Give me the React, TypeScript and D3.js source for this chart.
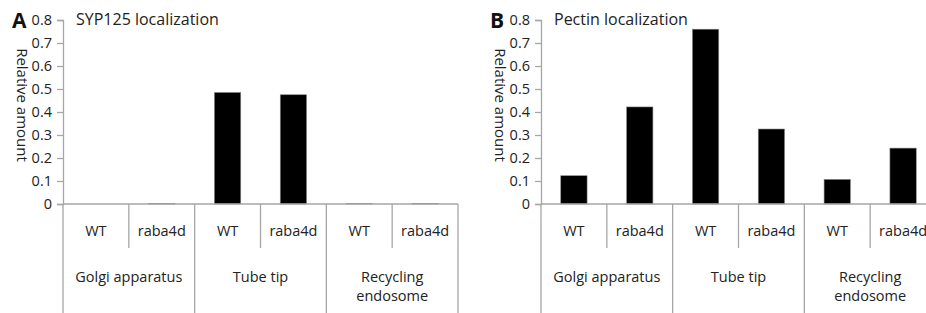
import React, { useEffect, useRef } from 'react';
import * as d3 from 'd3';

// chart data
const groups = ['Golgi apparatus', 'Tube tip', 'Recycling endosome'];
const strains = ['WT', 'raba4d'];
const sypValues = [0, 0.003, 0.485, 0.475, 0.002, 0.003];
const pectinValues = [0.123, 0.422, 0.76, 0.326, 0.107, 0.243];
const yTicks = [0, 0.1, 0.2, 0.3, 0.4, 0.5, 0.6, 0.7, 0.8];

const width = 926;
const height = 313;
const font = '"Open Sans", "Liberation Sans", sans-serif';
const axisColor = '#a6a6a6';

const yTop = 20;
const yBottom = 204;
const slotsBottom = 248;

const slots = groups.flatMap(g => strains.map(s => `${g}|${s}`));

const Panel = ({ left, letter, title, values }) => {
  const axisRef = useRef(null);
  const plotWidth = 395;

  const xScale = d3.scaleBand().domain(slots).range([left, left + plotWidth]).padding(0);
  const yScale = d3.scaleLinear().domain([0, 0.8]).range([yBottom, yTop]);
  const groupWidth = xScale.bandwidth() * strains.length;
  const barWidth = xScale.bandwidth() * 0.4;

  useEffect(() => {
    const yAxis = d3.axisLeft(yScale).tickValues(yTicks).tickSize(6).tickPadding(5)
      .tickFormat(d => (d === 0 ? '0' : d3.format('.1f')(d)));
    const g = d3.select(axisRef.current);
    g.call(yAxis);
    g.select('.domain').attr('stroke', axisColor).attr('stroke-width', 1.3);
    g.selectAll('.tick line').attr('stroke', axisColor).attr('stroke-width', 1.3);
    g.selectAll('.tick text')
      .attr('fill', '#222')
      .style('font-family', font)
      .style('font-size', '14.5px');
  });

  return (
    <g>
      <text x={left - 51} y={28} fontFamily={font} fontWeight="bold" fontSize={21} fill="#111">{letter}</text>
      <text x={left + 13} y={25} fontFamily={font} fontSize={16} fill="#222">{title}</text>
      <text
        transform={`translate(${left - 46}, 105) rotate(90)`}
        textAnchor="middle"
        fontFamily={font}
        fontSize={15}
        fill="#222"
      >
        Relative amount
      </text>

      <g ref={axisRef} transform={`translate(${left}, 0)`} fontFamily={font} />

      {values.map((v, i) => {
        const x = xScale(slots[i]) + (xScale.bandwidth() - barWidth) / 2;
        const h = yBottom - yScale(v);
        return (
          <rect
            key={slots[i]}
            x={x}
            y={yScale(v)}
            width={barWidth}
            height={Math.max(h, 0)}
            fill="#000"
            stroke={v > 0 ? '#888' : 'none'}
            strokeWidth={0.6}
          />
        );
      })}

      <line x1={left} x2={left + plotWidth} y1={yBottom} y2={yBottom} stroke={axisColor} strokeWidth={1.3} />

      {slots.map((s, i) => {
        const x = xScale(s);
        const long = i % strains.length === 0;
        return (
          <line key={`sep-${s}`} x1={x} x2={x} y1={yBottom} y2={long ? height : slotsBottom}
            stroke={axisColor} strokeWidth={1.3} />
        );
      })}
      <line x1={left + plotWidth} x2={left + plotWidth} y1={yBottom} y2={height} stroke={axisColor} strokeWidth={1.3} />

      {slots.map((s, i) => (
        <text key={`lab-${s}`} x={xScale(s) + xScale.bandwidth() / 2} y={236}
          textAnchor="middle" fontFamily={font} fontSize={14.5} fill="#222">
          {strains[i % strains.length]}
        </text>
      ))}

      {groups.map((g, gi) => {
        const cx = left + groupWidth * gi + groupWidth / 2;
        const words = g === 'Recycling endosome' ? ['Recycling', 'endosome'] : [g];
        return (
          <text key={`grp-${g}`} textAnchor="middle" fontFamily={font} fontSize={14.5} fill="#222">
            {words.map((w, wi) => (
              <tspan key={w} x={cx} y={282 + wi * 19}>{w}</tspan>
            ))}
          </text>
        );
      })}
    </g>
  );
};

const App = () => {
  return (
    <svg width={width} height={height} style={{ position: 'absolute', left: 0, top: 0, background: '#fff' }}>
      <Panel left={63} letter="A" title="SYP125 localization" values={sypValues} />
      <Panel left={541} letter="B" title="Pectin localization" values={pectinValues} />
    </svg>
  );
};

export default App;
